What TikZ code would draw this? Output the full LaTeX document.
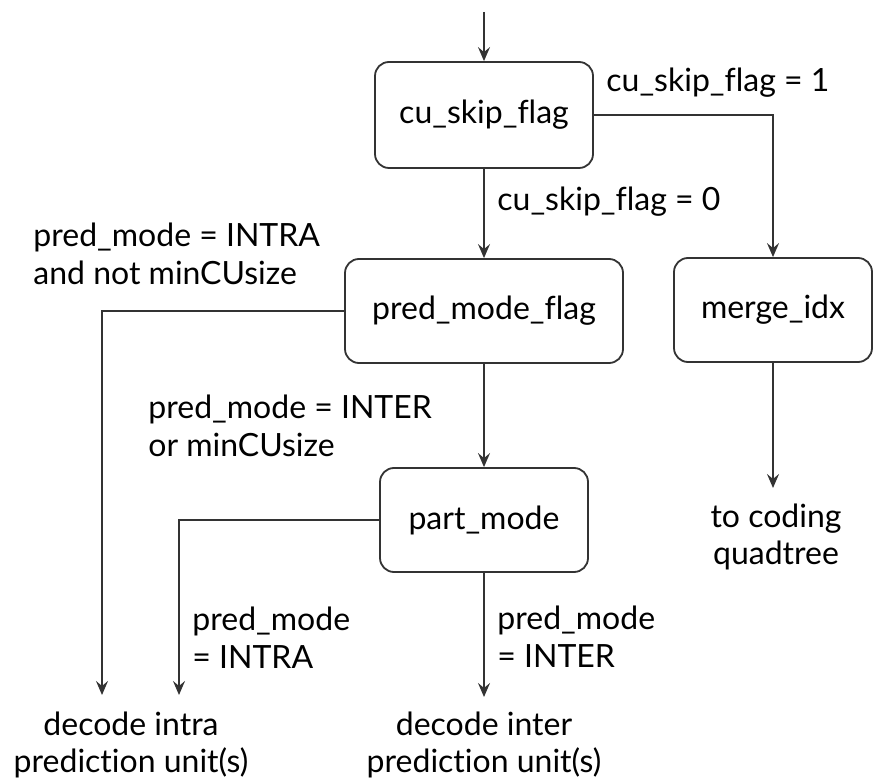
\documentclass[tikz,border=0pt]{standalone}
\usepackage{fontspec}
\setmainfont[Ligatures={NoCommon}]{Lato}
\usetikzlibrary{arrows.meta}

\begin{document}
\begin{tikzpicture}[
   x=0.5pt,y=-0.5pt,
   font=\fontsize{16}{18.8}\selectfont,
   flagbox/.style={draw=black!80,rounded corners=7pt,line width=0.9pt,align=center,inner sep=0pt},
   cond/.style={anchor=west,align=left,inner sep=0pt},
   goal/.style={align=center,inner sep=0pt},
   flow/.style={draw=black!80,line width=0.9pt,-{Stealth[length=7pt,width=6pt,inset=2.5pt]}}
]
  \useasboundingbox (0,0) rectangle (873,780);

  % syntax elements
  \node[flagbox,minimum width=109pt,minimum height=53pt] (cu)    at (484,115) {cu\_skip\_flag};
  \node[flagbox,minimum width=139pt,minimum height=52pt] (pmf)   at (484,311) {pred\_mode\_flag};
  \node[flagbox,minimum width=99pt, minimum height=52pt] (merge) at (773,310) {merge\_idx};
  \node[flagbox,minimum width=104pt,minimum height=52pt] (part)  at (484,520) {part\_mode};

  % where the decoding goes next
  \node[goal] (intra) at (131,745) {decode intra\\prediction unit(s)};
  \node[goal] (inter) at (484,745) {decode inter\\prediction unit(s)};
  \node[goal] (quad)  at (776,537) {to coding\\quadtree};

  % branch conditions
  \node[cond] (c1) at (606,83)  {cu\_skip\_flag = 1};
  \node[cond] (c0) at (497,202) {cu\_skip\_flag = 0};
  \node[cond] (ci) at (33,254)  {pred\_mode = INTRA\\and not minCUsize};
  \node[cond] (ce) at (148,426) {pred\_mode = INTER\\or minCUsize};
  \node[cond] (pi) at (192,638) {pred\_mode\\= INTRA};
  \node[cond] (pe) at (497,637) {pred\_mode\\= INTER};

  \coordinate (in)    at (484,12);
  \coordinate (intA)  at (102,695);
  \coordinate (intB)  at (179,695);
  \coordinate (intC)  at (484,697);
  \coordinate (quadT) at (773,488);

  \draw[flow] (in) -- (cu.north);
  \draw[flow] (cu.east) -| (merge.north);
  \draw[flow] (cu.south) -- (pmf.north);
  \draw[flow] (pmf.west) -| (intA);
  \draw[flow] (pmf.south) -- (part.north);
  \draw[flow] (part.west) -| (intB);
  \draw[flow] (part.south) -- (intC);
  \draw[flow] (merge.south) -- (quadT);
\end{tikzpicture}
\end{document}
